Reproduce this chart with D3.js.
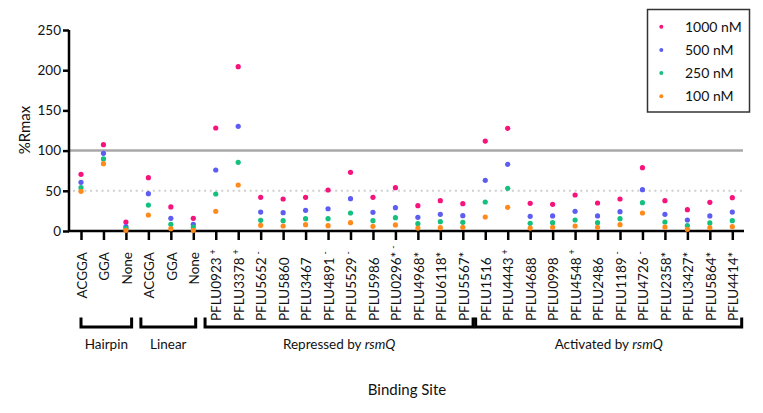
<!DOCTYPE html>
<html><head><meta charset="utf-8">
<script src="https://cdn.jsdelivr.net/npm/d3@7"></script>
<style>
html,body{margin:0;padding:0;background:#fff;}
text{font-family:Lato,"Open Sans",sans-serif;fill:#111;}
</style></head>
<body><svg id="c" width="763" height="413"></svg>
<script>
const categories = ["ACGGA","GGA","None","ACGGA","GGA","None",
 "PFLU0923","PFLU3378","PFLU5652","PFLU5860","PFLU3467","PFLU4891","PFLU5529","PFLU5986","PFLU0296*","PFLU4968*","PFLU6118*","PFLU5567*",
 "PFLU1516","PFLU4443","PFLU4688","PFLU0998","PFLU4548","PFLU2486","PFLU1189","PFLU4726","PFLU2358*","PFLU3427*","PFLU5864*","PFLU4414*"];
const superscripts = ["","","","","","",
 "+","+","-","","","-","-","","-","","","",
 "","+","","","+","","-","-","","","",""];
const series = ["1000 nM","500 nM","250 nM","100 nM"];
const v1000 = [70.5,107.4,11.2,66.3,29.9,15.8,128.1,204.4,41.9,39.8,41.9,51,73,41.9,53.9,31.5,37.7,34,111.9,127.7,34.4,33.2,44.8,34.8,39.8,78.8,37.7,26.5,35.7,41.4];
const v500  = [60.5,96.6,5.4,46.4,15.8,8.3,75.9,130.2,23.6,22.8,25.7,27.7,40.2,23.2,29,17,20.7,19,63,82.9,18.2,18.7,24.5,18.7,24,51.4,20.7,13.7,18.7,23.6];
const v250  = [53.9,89.6,3.3,32.3,8.3,5,46,85.4,13.3,12.8,15.3,15.3,22.4,12.8,16.6,9.1,11.6,10.8,36.1,53.1,9.5,10.4,13.7,10.4,15.3,35.2,11.2,6.6,10,12.8];
const v100  = [49.4,83.7,0.8,19.9,2.9,0.8,24.5,57.2,7.1,6.2,7.9,6.6,10.4,5.8,7.5,3.7,4.1,4.6,17.4,29.5,3.7,4.6,6.2,4.6,7.9,22.4,5,2.1,4.1,5.4];
const yTicks = [0,50,100,150,200,250];
const refSolid = 100, refDotted = 50;
const groupNames = ["Hairpin","Linear","Repressed by ","Activated by "];
const groupItalic = ["","","rsmQ","rsmQ"];
const groupStart = [0,3,6,18];
const groupEnd = [2,5,17,29];
const yTitle = "%Rmax", xTitle = "Binding Site";

const colors = ["#f7137c","#5d5df2","#14c07e","#ff8a1c"];
const allVals = [v1000,v500,v250,v100];

const svg = d3.select("#c");
const idx = d3.range(categories.length);
const x = d3.scalePoint().domain(idx).range([81,732.3]);
const y = d3.scaleLinear().domain([0,250]).range([231,30]);
const axisLeftX = 69, axisRightX = 744;

// reference lines
svg.append("line").attr("x1",axisLeftX).attr("x2",743).attr("y1",y(refSolid)).attr("y2",y(refSolid))
  .attr("stroke","#a8a8a8").attr("stroke-width",2.5);
svg.append("line").attr("x1",axisLeftX+4).attr("x2",742).attr("y1",y(refDotted)).attr("y2",y(refDotted))
  .attr("stroke","#cfcfcf").attr("stroke-width",2).attr("stroke-dasharray","2,3.7");

// y axis
const ya = svg.append("g").attr("transform",`translate(${axisLeftX},0)`)
  .call(d3.axisLeft(y).tickValues(yTicks).tickSize(6).tickPadding(2));
ya.select(".domain").attr("stroke","#000").attr("stroke-width",2.5).attr("d",`M0,${y(250)}V${y(0)+1}`);
ya.selectAll(".tick line").attr("stroke","#000").attr("stroke-width",2.5);
ya.selectAll(".tick text").attr("font-family","Lato").attr("font-size",13.5).attr("fill","#111");

// x axis
const xa = svg.append("g").attr("transform",`translate(0,${y(0)})`)
  .call(d3.axisBottom(x).tickSize(9).tickFormat(""));
xa.select(".domain").attr("stroke","#000").attr("stroke-width",2.5).attr("d",`M${axisLeftX-1},0H${axisRightX}`);
xa.selectAll(".tick line").attr("stroke","#000").attr("stroke-width",2.5);

// x tick labels
const lab = svg.append("g");
idx.forEach(i=>{
  const isPF = categories[i].startsWith("PFLU");
  const t = lab.append("text")
    .attr("transform",`translate(${x(i)+1},${isPF?321:252}) rotate(-90)`)
    .attr("text-anchor",isPF?"start":"end")
    .attr("dy","0.35em")
    .attr("font-size",13.5);
  t.append("tspan").text(categories[i]);
  if(superscripts[i]) t.append("tspan").attr("dx",3).attr("dy","-0.6em").attr("font-size",9).text(superscripts[i]);
});

// points
allVals.forEach((vals,s)=>{
  svg.append("g").selectAll("circle").data(vals).join("circle")
    .attr("cx",(d,i)=>x(i)).attr("cy",d=>y(d)).attr("r",2.6).attr("fill",colors[s]);
});

// group brackets
const padL = [0,-7.5,-10.7,-9.6], padR = [5.7,2.4,10.3,9.4];
groupNames.forEach((g,k)=>{
  const x0 = x(groupStart[k])+padL[k], x1 = x(groupEnd[k])+padR[k];
  svg.append("path").attr("d",`M${x0},317.5V327H${x1}V317.5`)
    .attr("fill","none").attr("stroke","#000").attr("stroke-width",3);
  const t = svg.append("text").attr("x",(x0+x1)/2).attr("y",349).attr("text-anchor","middle").attr("font-size",13.5);
  t.append("tspan").text(g);
  if(groupItalic[k]) t.append("tspan").attr("font-style","italic").text(groupItalic[k]);
});

// titles
svg.append("text").attr("transform","translate(30,130) rotate(-90)").attr("text-anchor","middle")
  .attr("font-size",15).text(yTitle);
svg.append("text").attr("x",407).attr("y",395).attr("text-anchor","middle").attr("font-size",15).text(xTitle);

// legend
svg.append("rect").attr("x",647.5).attr("y",9.5).attr("width",102).attr("height",102.5)
  .attr("fill","#fff").attr("stroke","#333").attr("stroke-width",1.5);
series.forEach((s,k)=>{
  const cy = 26.7 + k*23.2;
  svg.append("circle").attr("cx",661.3).attr("cy",cy).attr("r",2).attr("fill",colors[k]);
  svg.append("text").attr("x",685).attr("y",cy).attr("dy","0.35em").attr("font-size",14).text(s);
});
</script></body></html>
